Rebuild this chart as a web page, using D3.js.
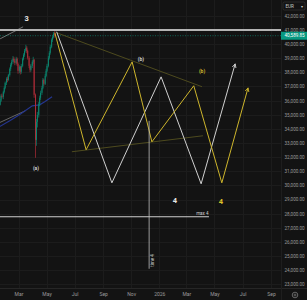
<!DOCTYPE html>
<html>
<head>
<meta charset="utf-8">
<script src="https://cdn.jsdelivr.net/npm/d3@7"></script>
<style>
html, body { margin: 0; padding: 0; background: #131313; }
svg { display: block; font-family: Roboto, "Noto Sans", sans-serif; }
</style>
</head>
<body>
<div id="showBox"></div>
<script>
// daily-ish candles: date, open, high, low, close
const candles = [
  ["2025-01-17", 35900, 36050, 35550, 35700], ["2025-01-20", 35700, 36100, 35650, 35990],
  ["2025-01-22", 35990, 36450, 35900, 36340], ["2025-01-24", 36340, 36500, 36150, 36270],
  ["2025-01-27", 36270, 36700, 36100, 36620], ["2025-01-29", 36620, 37000, 36500, 36900],
  ["2025-01-31", 36900, 37350, 36800, 37260], ["2025-02-03", 37260, 37650, 37100, 37540],
  ["2025-02-05", 37540, 37700, 37300, 37470], ["2025-02-07", 37470, 37900, 37400, 37820],
  ["2025-02-10", 37820, 38350, 37700, 38250], ["2025-02-12", 38250, 38650, 38100, 38530],
  ["2025-02-14", 38530, 38900, 38400, 38740], ["2025-02-17", 38740, 39150, 38600, 38960],
  ["2025-02-19", 38960, 39100, 38700, 38820], ["2025-02-21", 38820, 38950, 38500, 38670],
  ["2025-02-24", 38670, 39100, 38550, 38960], ["2025-02-26", 38960, 39050, 38450, 38600],
  ["2025-02-28", 38600, 38700, 37900, 38110], ["2025-03-03", 38110, 38500, 37950, 38390],
  ["2025-03-05", 38390, 38450, 37850, 38040], ["2025-03-07", 38040, 38600, 37900, 38460],
  ["2025-03-10", 38460, 39050, 38350, 38960], ["2025-03-12", 38960, 39350, 38850, 39240],
  ["2025-03-14", 39240, 39650, 39100, 39520], ["2025-03-17", 39520, 39950, 39400, 39740],
  ["2025-03-19", 39740, 39850, 39350, 39520], ["2025-03-21", 39520, 39600, 38900, 39030],
  ["2025-03-24", 39030, 39150, 38300, 38460], ["2025-03-26", 38460, 38550, 38000, 38180],
  ["2025-03-28", 38180, 38600, 38050, 38460], ["2025-03-31", 38460, 38850, 38300, 38740],
  ["2025-04-02", 38740, 39100, 38600, 38890], ["2025-04-04", 38890, 38950, 36200, 36410],
  ["2025-04-07", 36410, 36500, 31950, 33220], ["2025-04-09", 33220, 34700, 32800, 34500],
  ["2025-04-11", 34500, 35200, 34100, 34990], ["2025-04-14", 34990, 35900, 34800, 35770],
  ["2025-04-16", 35770, 36350, 35600, 36200], ["2025-04-18", 36200, 36700, 36050, 36550],
  ["2025-04-21", 36550, 37050, 36400, 36900], ["2025-04-23", 36900, 37600, 36800, 37470],
  ["2025-04-25", 37470, 37550, 37050, 37190], ["2025-04-28", 37190, 37900, 37100, 37750],
  ["2025-04-30", 37750, 38250, 37650, 38110], ["2025-05-02", 38110, 38600, 38000, 38460],
  ["2025-05-05", 38460, 39150, 38350, 39030], ["2025-05-07", 39030, 39500, 38900, 39380],
  ["2025-05-09", 39380, 39950, 39250, 39810], ["2025-05-12", 39810, 40400, 39700, 40300],
  ["2025-05-14", 40300, 40650, 40150, 40510], ["2025-05-16", 40510, 40850, 40400, 40730],
  ["2025-05-19", 40730, 40950, 40450, 40589.85]
];

const maBlue = [["2025-01-18", 34140], ["2025-02-10", 34570], ["2025-03-03", 34990],
  ["2025-03-31", 35630], ["2025-04-16", 35700], ["2025-04-27", 35910], ["2025-05-13", 36270]];
const maGrey = [["2025-01-18", 34430], ["2025-03-16", 35280]];
const trend3 = [["2025-01-20", 40370], ["2025-03-11", 41220]];

const whitePath = [["2025-05-23", 40870], ["2025-09-20", 30180], ["2026-01-05", 37680],
  ["2026-04-02", 30110], ["2026-06-15", 38600]];
const yellowPath = [["2025-05-19", 40800], ["2025-07-26", 32520], ["2025-11-03", 38740],
  ["2025-12-16", 33080], ["2026-03-17", 37050], ["2026-05-17", 30180], ["2026-07-13", 36900]];
const upperLine = [["2025-05-23", 40800], ["2026-04-04", 36980]];
const lowerLine = [["2025-06-25", 32380], ["2026-04-06", 33510]];

const level41 = 41000;
const lastPrice = 40589.85;
const max4 = { price: 27780, end: "2026-04-19", text: "max 4" };
const vLine = { date: "2025-12-10", top: 34570, bottom: 24100, text: "time 4" };

const waveLabels = [
  { text: "3", date: "2025-03-19", price: 41600, color: "#e6e6e6", size: 7.5, weight: "bold" },
  { text: "(a)", date: "2025-04-08", price: 31100, color: "#cfcfcf", size: 5, weight: "bold" },
  { text: "(b)", date: "2025-11-22", price: 38820, color: "#cfcfcf", size: 5, weight: "bold" },
  { text: "(b)", date: "2026-04-04", price: 37970, color: "#cdb52c", size: 5, weight: "bold" },
  { text: "4", date: "2026-02-04", price: 28760, color: "#e6e6e6", size: 7.5, weight: "bold" },
  { text: "4", date: "2026-05-15", price: 28700, color: "#dcc22a", size: 7.5, weight: "bold" }
];

const yTicks = d3.range(23000, 42001, 1000);
const xTicks = ["2025-03-01", "2025-05-01", "2025-07-01", "2025-09-01", "2025-11-01",
  "2026-01-01", "2026-03-01", "2026-05-01", "2026-07-01", "2026-09-01"];
const xTickLabels = ["Mar", "May", "Jul", "Sep", "Nov", "2026", "Mar", "May", "Jul", "Sep"];

const W = 307, H = 300, plotW = 281, plotH = 288;
const parse = d3.timeParse("%Y-%m-%d");

const x = d3.scaleTime()
  .domain([parse("2025-03-01"), parse("2026-01-01")])
  .range([18.5, 18.5 + 306 * 0.46]);
const y = d3.scaleLinear().domain([23000, 42000]).range([284.3, 15.8]);

const svg = d3.select("#showBox").append("svg")
  .attr("width", W).attr("height", H)
  .style("background", "#131313");

svg.append("defs").append("clipPath").attr("id", "plot")
  .append("rect").attr("width", plotW).attr("height", plotH);

const defs = svg.select("defs");
[["arrW", "#d4d4d4"], ["arrY", "#cdb52c"]].forEach(([id, c]) => {
  defs.append("marker").attr("id", id)
    .attr("viewBox", "0 0 6 6").attr("refX", 5).attr("refY", 3)
    .attr("markerWidth", 5).attr("markerHeight", 5)
    .attr("markerUnits", "userSpaceOnUse").attr("orient", "auto")
    .append("path").attr("d", "M0,0.5 L5,3 L0,5.5").attr("fill", "none")
    .attr("stroke", c).attr("stroke-width", 1);
});

const plot = svg.append("g").attr("clip-path", "url(#plot)");

// grid
plot.append("g").selectAll("line").data(yTicks).join("line")
  .attr("x1", 0).attr("x2", plotW)
  .attr("y1", d => Math.round(y(d)) + 0.5).attr("y2", d => Math.round(y(d)) + 0.5)
  .attr("stroke", "#1c1c1c");
plot.append("g").selectAll("line").data(xTicks).join("line")
  .attr("x1", d => Math.round(x(parse(d))) + 0.5).attr("x2", d => Math.round(x(parse(d))) + 0.5)
  .attr("y1", 0).attr("y2", plotH)
  .attr("stroke", "#1c1c1c");

const line = d3.line().x(d => x(parse(d[0]))).y(d => y(d[1]));

// moving averages
plot.append("path").datum(maGrey).attr("d", line)
  .attr("fill", "none").attr("stroke", "#7a7a7a").attr("stroke-width", 0.8);
plot.append("path").datum(maBlue).attr("d", line).attr("fill", "none")
  .attr("stroke", "#24358f").attr("stroke-width", 1.2);

// candles
const up = "#0a8670", down = "#b02c38";
const cg = plot.append("g");
cg.selectAll("line").data(candles).join("line")
  .attr("x1", d => x(parse(d[0]))).attr("x2", d => x(parse(d[0])))
  .attr("y1", d => y(d[2])).attr("y2", d => y(d[3]))
  .attr("stroke", d => d[4] >= d[1] ? up : down).attr("stroke-width", 0.7);
cg.selectAll("rect").data(candles).join("rect")
  .attr("x", d => x(parse(d[0])) - 0.5).attr("width", 1)
  .attr("y", d => y(Math.max(d[1], d[4])))
  .attr("height", d => Math.max(1, Math.abs(y(d[1]) - y(d[4]))))
  .attr("fill", d => d[4] >= d[1] ? up : down);

// trend line near wave 3
plot.append("path").datum(trend3).attr("d", line)
  .attr("fill", "none").attr("stroke", "#8c8c8c").attr("stroke-width", 0.8);

// levels
plot.append("line").attr("x1", 0).attr("x2", plotW)
  .attr("y1", y(level41)).attr("y2", y(level41))
  .attr("stroke", "#b4b4b4").attr("stroke-width", 2);
plot.append("line").attr("x1", 0).attr("x2", plotW)
  .attr("y1", y(lastPrice)).attr("y2", y(lastPrice))
  .attr("stroke", "#0b7a66").attr("stroke-width", 0.8).attr("stroke-dasharray", "1,1.5");

// olive channel lines
[upperLine, lowerLine].forEach(l => {
  plot.append("path").datum(l).attr("d", line).attr("fill", "none")
    .attr("stroke", "#4d4a1e").attr("stroke-width", 1);
});

// projections
plot.append("path").datum(whitePath).attr("d", line).attr("fill", "none")
  .attr("stroke", "#d0d0d0").attr("stroke-width", 1).attr("marker-end", "url(#arrW)");
plot.append("path").datum(yellowPath).attr("d", line).attr("fill", "none")
  .attr("stroke", "#cdb52c").attr("stroke-width", 1).attr("marker-end", "url(#arrY)");

// max 4 line
const m4x = x(parse(max4.end));
plot.append("line").attr("x1", 0).attr("x2", m4x)
  .attr("y1", y(max4.price)).attr("y2", y(max4.price))
  .attr("stroke", "#cfcfcf").attr("stroke-width", 1);
plot.append("text").attr("x", m4x - 0.5).attr("y", y(max4.price) - 2)
  .attr("text-anchor", "end").attr("font-size", 4.5).attr("fill", "#d0d0d0").text(max4.text);

// vertical time line
const vx = x(parse(vLine.date));
plot.append("line").attr("x1", vx).attr("x2", vx)
  .attr("y1", y(vLine.top)).attr("y2", y(vLine.bottom))
  .attr("stroke", "#bdbdbd").attr("stroke-width", 0.8);
plot.append("text")
  .attr("transform", `translate(${vx + 5},${y(vLine.bottom) - 2}) rotate(-90)`)
  .attr("font-size", 4.5).attr("fill", "#c8c8c8").text(vLine.text);

// wave labels
plot.append("g").selectAll("text").data(waveLabels).join("text")
  .attr("x", d => x(parse(d.date))).attr("y", d => y(d.price))
  .attr("text-anchor", "middle")
  .attr("font-size", d => d.size).attr("font-weight", d => d.weight)
  .attr("fill", d => d.color).text(d => d.text);

// axes frame
svg.append("line").attr("x1", 0).attr("x2", W).attr("y1", plotH + 0.5).attr("y2", plotH + 0.5)
  .attr("stroke", "#262626");
svg.append("line").attr("x1", plotW + 0.5).attr("x2", plotW + 0.5).attr("y1", 0).attr("y2", H)
  .attr("stroke", "#1e1e1e");

const yAxis = svg.append("g").attr("transform", `translate(${plotW},0)`)
  .call(d3.axisRight(y).tickValues(yTicks).tickFormat(d3.format(",.2f")).tickSize(0).tickPadding(3.5));
yAxis.select(".domain").remove();
yAxis.selectAll("text").attr("font-size", 4.6).attr("fill", "#9a9a9a")
  .attr("font-family", "Roboto, sans-serif");

const xAxis = svg.append("g").attr("transform", `translate(0,${plotH})`)
  .call(d3.axisBottom(x).tickValues(xTicks.map(parse))
    .tickFormat((d, i) => xTickLabels[i]).tickSize(0).tickPadding(4));
xAxis.select(".domain").remove();
xAxis.selectAll("text").attr("font-size", 5).attr("fill", "#9a9a9a")
  .attr("font-family", "Roboto, sans-serif");

// last price tag
const tag = svg.append("g").attr("transform", `translate(${plotW},${y(lastPrice)})`);
tag.append("rect").attr("x", 0).attr("y", -4).attr("width", W - plotW).attr("height", 8)
  .attr("fill", "#089981");
tag.append("text").attr("x", 3.5).attr("y", 1.7).attr("font-size", 4.6)
  .attr("fill", "#ffffff").text(d3.format(",.2f")(lastPrice));

// currency box
const cur = svg.append("g").attr("transform", `translate(${plotW + 2},2)`);
cur.append("rect").attr("width", 22).attr("height", 8).attr("rx", 1.5)
  .attr("fill", "#131313").attr("stroke", "#3a3a3a").attr("stroke-width", 0.6);
cur.append("text").attr("x", 2.5).attr("y", 5.8).attr("font-size", 4.6)
  .attr("fill", "#c8c8c8").text("EUR");
cur.append("text").attr("x", 17.5).attr("y", 5.8).attr("font-size", 4)
  .attr("fill", "#c8c8c8").text("▾");

// settings icon
svg.append("circle").attr("cx", 295).attr("cy", 295).attr("r", 2.8)
  .attr("fill", "none").attr("stroke", "#8a8a8a").attr("stroke-width", 0.7);
svg.append("circle").attr("cx", 295).attr("cy", 295).attr("r", 1)
  .attr("fill", "none").attr("stroke", "#8a8a8a").attr("stroke-width", 0.6);
</script>
</body>
</html>
